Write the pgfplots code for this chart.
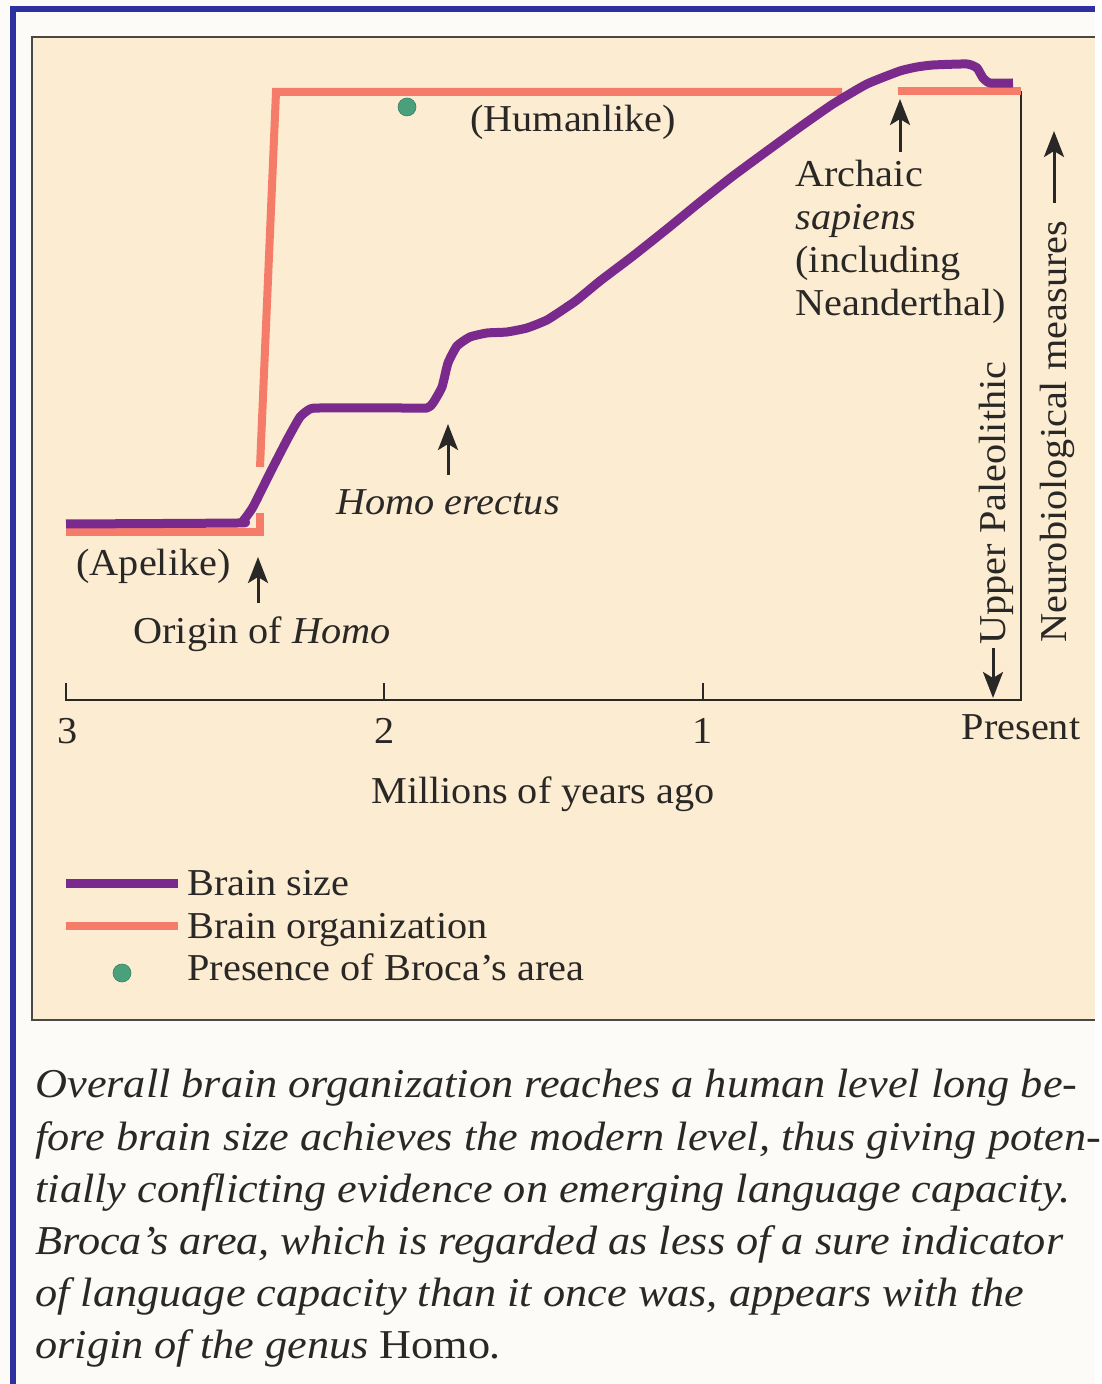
\documentclass[border=0pt]{standalone}
\usepackage{fontspec}
\setmainfont[FakeStretch=1.06]{Liberation Serif}
\newfontfamily\capfont[FakeStretch=1.08]{Liberation Serif}
\usepackage{pgfplots}
\pgfplotsset{compat=1.18}
\usetikzlibrary{arrows.meta}
\definecolor{bluebar}{RGB}{46,48,160}
\definecolor{cream}{RGB}{252,236,210}
\definecolor{paper}{RGB}{253,251,247}
\definecolor{purp}{RGB}{122,42,140}
\definecolor{salmon}{RGB}{245,124,104}
\definecolor{broca}{RGB}{74,160,122}
\definecolor{ink}{RGB}{42,40,38}
\begin{document}
\begin{tikzpicture}
\begin{scope}[x=0.5pt,y=-0.5pt]
  \fill[paper] (0,0) rectangle (1095,1384);
  \fill[bluebar] (10,6) rectangle (1095,12);
  \fill[bluebar] (10,6) rectangle (16,1384);
  \fill[cream] (32,37) rectangle (1095,1020);
  \draw[ink!85, line width=1pt] (1095,37) -- (32,37) -- (32,1020) -- (1095,1020);
\end{scope}
\begin{axis}[at={(0pt,0pt)}, anchor=north west, scale only axis,
  width=547.5pt, height=692pt, axis lines=none,
  xmin=-0.2325, xmax=3.2074, x dir=reverse, ymin=-684, ymax=700, clip=false]
  % axis frame
  \draw[ink, line width=1pt] (axis cs:3,17) -- (axis cs:3,0) -- (axis cs:0,0) -- (axis cs:0,609);
  \draw[ink, line width=1pt] (axis cs:2,0) -- (axis cs:2,17);
  \draw[ink, line width=1pt] (axis cs:1,0) -- (axis cs:1,17);
  % brain organization
  \addplot[salmon, line width=4pt] coordinates {(3,168) (2.3906,168) (2.3906,187)};
  \addplot[salmon, line width=4pt] coordinates {(2.3906,233) (2.3403,608) (0.5623,608)};
  \addplot[salmon, line width=4pt] coordinates {(0.3864,609) (0,609)};
  % brain size
  \addplot[purp, line width=4.5pt, smooth, tension=0.3, line join=round] coordinates {
    (3.0,176) (2.4597,177) (2.444,179) (2.4126,193) (2.3592,227) (2.3058,260)
    (2.2649,283) (2.2335,291) (2.2021,292) (1.95,292) (1.866,292) (1.8471,297)
    (1.8189,313) (1.80,337) (1.7717,354) (1.7309,363) (1.6775,367) (1.6147,368)
    (1.5519,372) (1.489,380) (1.4262,393) (1.3948,400) (1.3225,419) (1.2189,444)
    (1.1121,471) (1.0084,498) (0.9047,524) (0.7979,549) (0.6942,573) (0.5906,596)
    (0.4838,616) (0.3801,629) (0.3267,633) (0.2764,635) (0.1696,636) (0.1382,632)
    (0.1194,622) (0.0974,617) (0.0251,617)};
  % Broca's area
  \addplot[only marks, mark=*, mark size=4.5pt, mark options={fill=broca, draw=broca!80!black, line width=0.3pt}] coordinates {(1.9288,593)};
  % legend samples
  \addplot[purp, line width=4.5pt] coordinates {(3,-183) (2.6482,-183)};
  \addplot[salmon, line width=4pt] coordinates {(3,-226) (2.6482,-226)};
  \addplot[only marks, mark=*, mark size=4.5pt, mark options={fill=broca, draw=broca!80!black, line width=0.3pt}] coordinates {(2.8241,-273)};
\end{axis}
\begin{scope}[x=0.5pt,y=-0.5pt, every node/.style={inner sep=0pt, text=ink, font=\fontsize{19}{21.5}\selectfont}]
  \node[anchor=base] at (573,132) {(Humanlike)};
  \node[anchor=base west] at (795,187) {Archaic};
  \node[anchor=base west] at (795,230) {\itshape sapiens};
  \node[anchor=base west] at (795,273) {(including};
  \node[anchor=base west] at (795,316) {Neanderthal)};
  \node[anchor=base] at (448,515) {\itshape Homo erectus};
  \node[anchor=base west] at (76,575) {(Apelike)};
  \node[anchor=base west] at (133,643) {Origin of \textit{Homo}};
  \node[anchor=base] at (68,743) {3};
  \node[anchor=base] at (385,743) {2};
  \node[anchor=base] at (703,743) {1};
  \node[anchor=base] at (1021,739) {Present};
  \node[anchor=base] at (543,803) {Millions of years ago};
  \node[anchor=base west] at (187,895) {Brain size};
  \node[anchor=base west] at (187,938) {Brain organization};
  \node[anchor=base west] at (187,980) {Presence of Broca’s area};
  \node[anchor=base west, rotate=90] at (1005,645) {Upper Paleolithic};
  \node[anchor=base west, rotate=90] at (1066,643) {Neurobiological measures};
  \draw[ink, line width=1.5pt, -{Stealth[length=13pt,width=10pt,inset=3pt]}] (258,603) -- (258,557);
  \draw[ink, line width=1.5pt, -{Stealth[length=13pt,width=10pt,inset=3pt]}] (448,475) -- (448,424);
  \draw[ink, line width=1.5pt, -{Stealth[length=13pt,width=10pt,inset=3pt]}] (900,152) -- (900,99);
  \draw[ink, line width=1.5pt, -{Stealth[length=13pt,width=10pt,inset=3pt]}] (1054,203) -- (1054,131);
  \draw[ink, line width=1.5pt, -{Stealth[length=13pt,width=10pt,inset=3pt]}] (993,648) -- (993,698);
\end{scope}
\begin{scope}[x=0.5pt,y=-0.5pt, every node/.style={inner sep=0pt, text=ink, anchor=base west, font=\capfont\itshape\fontsize{20.5}{24}\selectfont}]
  \node at (35,1097) {Overall brain organization reaches a human level long be-};
  \node at (35,1150) {fore brain size achieves the modern level, thus giving poten-};
  \node at (35,1202) {tially conflicting evidence on emerging language capacity.};
  \node at (35,1254) {Broca’s area, which is regarded as less of a sure indicator};
  \node at (35,1306) {of language capacity than it once was, appears with the};
  \node at (35,1358) {origin of the genus \textup{Homo}.};
\end{scope}
\end{tikzpicture}
\end{document}
